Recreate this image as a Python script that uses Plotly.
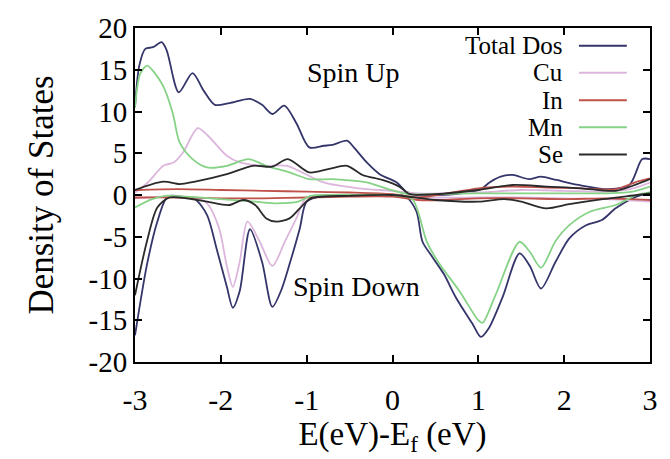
import plotly.graph_objects as go

# ---------------- data ----------------
total_up_E = [-3.0, -2.95, -2.88, -2.79, -2.69, -2.63, -2.49, -2.33, -2.2, -2.07, -1.90, -1.66, -1.52,
              -1.40, -1.26, -1.12, -0.97, -0.80, -0.70, -0.53, -0.45, -0.30, -0.15, 0.05, 0.16, 0.25,
              0.5, 0.8, 1.03, 1.13, 1.26, 1.40, 1.59, 1.73, 1.91, 2.17, 2.52, 2.76, 2.91, 3.0]
total_up = [10.5, 15.5, 17.5, 17.7, 18.3, 17.3, 12.3, 14.6, 12.5, 10.8, 11.0, 11.5, 10.8,
            9.7, 10.7, 8.6, 5.7, 5.9, 6.0, 6.5, 5.7, 3.9, 2.5, 1.5, 0.4, 0.1,
            0.0, 0.2, 0.7, 1.5, 2.2, 2.4, 1.9, 2.2, 1.8, 1.2, 0.7, 1.2, 4.3, 4.3]

total_dn_E = [-3.0, -2.86, -2.74, -2.62, -2.45, -2.3, -2.16, -2.05, -1.93, -1.86, -1.78, -1.66,
              -1.52, -1.40, -1.30, -1.20, -1.08, -1.0, -0.8, -0.4, 0.0, 0.16, 0.28, 0.35, 0.47,
              0.6, 0.74, 0.93, 1.03, 1.12, 1.28, 1.48, 1.6, 1.73, 1.9, 2.06, 2.26, 2.44, 2.6,
              2.84, 3.0]
total_dn = [-16.8, -8.3, -3.2, -0.2, -0.2, -0.5, -2.4, -6.4, -11.0, -13.5, -11.5, -4.1,
            -8.0, -13.4, -11.5, -8.3, -4.0, -0.8, -0.1, 0.0, 0.0, -0.2, -2.0, -5.6, -7.5,
            -9.5, -12.3, -15.4, -17.0, -16.0, -12.3, -7.0, -8.5, -11.2, -8.0, -5.2, -3.6, -3.0, -1.6,
            -0.2, 0.3]

cu_up_E = [-3.0, -2.85, -2.67, -2.55, -2.44, -2.27, -2.15, -1.93, -1.78, -1.51, -1.23, -1.05,
           -0.8, -0.4, 0.0, 0.3, 1.0, 1.5, 2.0, 2.5, 2.8, 3.0]
cu_up = [0.3, 1.5, 3.5, 3.9, 5.1, 8.0, 7.1, 4.7, 3.9, 3.5, 3.5, 2.7,
         1.5, 0.8, 0.5, 0.2, 0.3, 0.6, 0.5, 0.4, 0.8, 1.5]

cu_dn_E = [-3.0, -2.6, -2.3, -2.16, -2.02, -1.93, -1.86, -1.78, -1.69, -1.55, -1.40, -1.25,
           -1.12, -1.0, -0.5, 0.0, 0.5, 1.0, 1.5, 2.0, 2.5, 3.0]
cu_dn = [-0.4, -0.2, -0.3, -1.0, -4.0, -8.5, -11.0, -8.0, -3.2, -5.5, -8.5, -5.5,
         -2.8, -0.3, -0.1, -0.1, -0.3, -0.3, -0.3, -0.4, -0.5, -0.8]

in_up_E = [-3.0, -2.5, -2.0, -1.5, -1.0, -0.5, 0.0, 0.3, 0.7, 1.0, 1.4, 1.8, 2.2, 2.6, 2.85, 3.0]
in_up = [0.6, 0.7, 0.6, 0.5, 0.4, 0.3, 0.1, -0.3, 0.3, 0.8, 1.0, 0.9, 0.8, 0.7, 1.6, 2.0]

in_dn_E = [-3.0, -2.5, -2.0, -1.5, -1.0, -0.5, 0.0, 0.3, 0.6, 1.0, 1.5, 2.0, 2.5, 3.0]
in_dn = [-0.3, -0.3, -0.4, -0.4, -0.3, -0.2, -0.2, -0.6, -0.6, -0.4, -0.4, -0.5, -0.4, -0.6]

mn_up_E = [-3.0, -2.94, -2.86, -2.77, -2.67, -2.56, -2.48, -2.33, -2.16, -1.93, -1.68, -1.47,
           -1.2, -0.97, -0.7, -0.3, -0.05, 0.18, 0.5, 1.0, 1.5, 2.0, 2.5, 2.8, 3.0]
mn_up = [10.5, 14.5, 15.5, 14.6, 13.0, 9.8, 6.3, 4.3, 3.3, 3.5, 4.3, 3.5,
         2.7, 1.9, 1.9, 1.5, 0.7, 0.1, 0.1, 0.2, 0.2, 0.2, 0.2, 0.4, 1.0]

mn_dn_E = [-3.0, -2.8, -2.65, -2.4, -2.0, -1.6, -1.35, -1.1, -0.95, -0.5, 0.0, 0.23, 0.40,
           0.55, 0.78, 1.0, 1.05, 1.2, 1.48, 1.6, 1.73, 1.9, 2.06, 2.3, 2.6, 2.85, 3.0]
mn_dn = [-1.5, -0.5, -0.1, -0.2, -0.5, -0.8, -1.0, -0.8, -0.1, 0.0, 0.0, -0.5, -5.6,
         -8.3, -11.5, -15.0, -15.3, -12.0, -5.6, -6.8, -8.7, -5.5, -3.6, -2.0, -1.2, 0.0, 0.3]

se_up_E = [-3.0, -2.67, -2.48, -2.3, -1.93, -1.63, -1.40, -1.22, -0.97, -0.75, -0.53, -0.35,
           -0.12, 0.08, 0.2, 0.5, 1.0, 1.4, 1.8, 2.2, 2.6, 2.85, 3.0]
se_up = [0.6, 1.6, 1.3, 1.6, 2.5, 3.5, 3.4, 4.3, 2.7, 3.1, 3.5, 2.4,
         1.8, 1.0, 0.1, 0.1, 0.6, 1.2, 1.0, 0.8, 0.5, 1.3, 1.9]

se_dn_E = [-3.0, -2.86, -2.74, -2.6, -2.4, -2.16, -1.9, -1.74, -1.6, -1.47, -1.35, -1.2,
           -1.08, -0.95, -0.5, 0.0, 0.5, 1.0, 1.3, 1.5, 1.79, 2.06, 2.45, 2.85, 3.0]
se_dn = [-12.0, -5.5, -1.5, -0.3, -0.4, -0.8, -1.2, -0.6, -1.2, -2.8, -3.2, -2.8,
         -1.6, -0.4, -0.1, 0.0, -0.6, -0.8, -0.5, -0.8, -1.6, -1.1, -0.5, 0.0, 0.2]

series_names = ["Total Dos", "Cu", "In", "Mn", "Se"]
series_colors = ["#34356a", "#dcb6dc", "#c0504a", "#86d286", "#2a2a2a"]
series_data = [
    (total_up_E, total_up, total_dn_E, total_dn),
    (cu_up_E, cu_up, cu_dn_E, cu_dn),
    (in_up_E, in_up, in_dn_E, in_dn),
    (mn_up_E, mn_up, mn_dn_E, mn_dn),
    (se_up_E, se_up, se_dn_E, se_dn),
]

x_ticks = [-3, -2, -1, 0, 1, 2, 3]
y_ticks = [-20, -15, -10, -5, 0, 5, 10, 15, 20]

FONT = "Liberation Serif"

fig = go.Figure()
for name, color, (eu, vu, ed, vd) in zip(series_names, series_colors, series_data):
    for ex, vy in ((eu, vu), (ed, vd)):
        fig.add_trace(go.Scatter(
            x=ex, y=vy, mode="lines", name=name, showlegend=False,
            line=dict(color=color, width=1.8, shape="spline", smoothing=0.8),
            hoverinfo="skip"))

# gnuplot-style key: text on the left, line sample on the right
key_y = [0.947, 0.866, 0.784, 0.703, 0.621]
for name, color, ky in zip(series_names, series_colors, key_y):
    fig.add_annotation(x=0.835, y=ky, xref="paper", yref="paper", text=name,
                       showarrow=False, xanchor="right", yanchor="middle",
                       font=dict(family=FONT, size=25, color="black"))
    fig.add_shape(type="line", xref="paper", yref="paper", x0=0.862, x1=0.955,
                  y0=ky, y1=ky, line=dict(color=color, width=2))

fig.add_annotation(x=-0.45, y=14.7, text="Spin Up", showarrow=False,
                   font=dict(family=FONT, size=28, color="black"))
fig.add_annotation(x=-0.42, y=-10.9, text="Spin Down", showarrow=False,
                   font=dict(family=FONT, size=28, color="black"))

axis_common = dict(showgrid=False, zeroline=False, showline=True, linecolor="black",
                   linewidth=2, mirror="allticks", ticks="inside", ticklen=7,
                   tickcolor="black", tickwidth=1.5)
fig.update_xaxes(range=[-3, 3], tickvals=x_ticks, ticktext=[str(t) for t in x_ticks],
                 tickfont=dict(family=FONT, size=30, color="black"),
                 ticklabelstandoff=10,
                 title=dict(text="E(eV)-E<sub>f</sub> (eV)", standoff=6,
                            font=dict(family=FONT, size=33, color="black")),
                 **axis_common)
fig.update_yaxes(range=[-20, 20], tickvals=y_ticks,
                 ticktext=[str(t) for t in y_ticks],
                 tickfont=dict(family=FONT, size=29, color="black"),
                 title=dict(text="Density of States", standoff=24,
                            font=dict(family=FONT, size=35, color="black")),
                 **axis_common)

fig.update_layout(width=670, height=459, margin=dict(l=135, r=19, t=24, b=97),
                  plot_bgcolor="white", paper_bgcolor="white", showlegend=False)

fig.write_html("out.html")
